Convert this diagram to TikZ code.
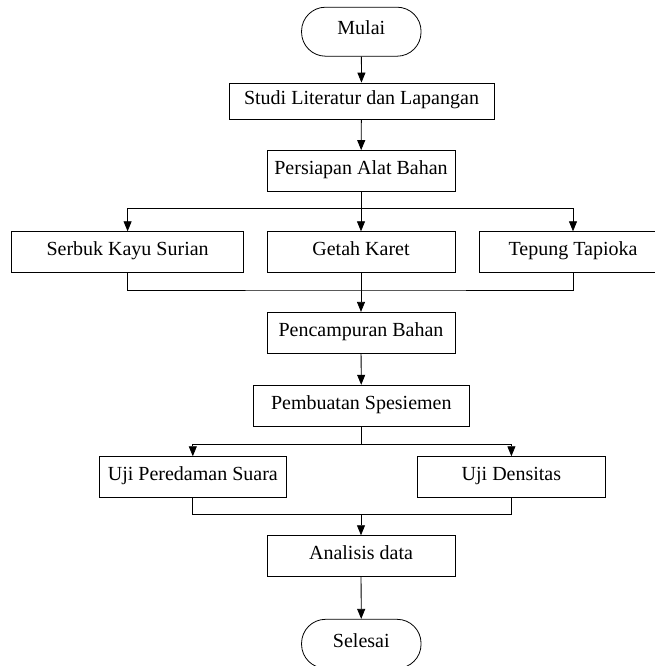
\documentclass[tikz,border=0pt]{standalone}
\usepackage{fontspec}
\setmainfont{Liberation Serif}
\usetikzlibrary{arrows.meta}
\begin{document}
\begin{tikzpicture}[x=1pt,y=-1pt,
  box/.style={draw=black,line width=0.8pt,fill=white,minimum height=41pt,inner sep=0pt,text height=0.66em,text depth=0pt,font=\fontsize{20}{22}\selectfont},
  term/.style={box,rounded corners=24pt,minimum width=119.5pt,minimum height=49pt},
  arr/.style={-{Triangle[length=10pt,width=8pt]},line width=0.8pt},
  ln/.style={line width=0.8pt}]
\useasboundingbox (0,0) rectangle (655,666);
\clip (0,0) rectangle (655,666);
\node[term] (mulai) at (361.3,31.7) {Mulai};
\node[box,minimum width=265pt,minimum height=36pt] (studi) at (361.5,101) {Studi Literatur dan Lapangan};
\node[box,minimum width=188pt] (persiapan) at (361,171) {Persiapan Alat Bahan};
\node[box,minimum width=232pt] (serbuk) at (127.6,252.2) {Serbuk Kayu Surian};
\node[box,minimum width=188pt] (getah) at (361,252.2) {Getah Karet};
\node[box,minimum width=188pt] (tepung) at (573,252.2) {Tepung Tapioka};
\node[box,minimum width=188pt] (pencampuran) at (361,332.8) {Pencampuran Bahan};
\node[box,minimum width=216.5pt] (pembuatan) at (361.3,405.7) {Pembuatan Spesiemen};
\node[box,minimum width=187.5pt,minimum height=40.3pt] (peredaman) at (192.8,476.8) {Uji Peredaman Suara};
\node[box,minimum width=187.5pt,minimum height=40.3pt] (densitas) at (511.4,476.8) {Uji Densitas};
\node[box,minimum width=188pt,minimum height=40.3pt] (analisis) at (361,555.8) {Analisis data};
\node[term] (selesai) at (361.3,643.8) {Selesai};
\coordinate (s1) at (361,208.3);
\coordinate (j1) at (361,290);
\coordinate (s2) at (361.3,444);
\coordinate (j2) at (361,514.7);
\draw[arr] (mulai) -- (studi);
\draw[arr] (studi) -- (persiapan);
\draw[arr] (persiapan) -- (getah);
\draw[arr] (s1) -| (serbuk.north);
\draw[arr] (s1) -| (tepung.north);
\draw[ln] (serbuk.south) |- (j1) -| (tepung.south);
\draw[arr] (getah) -- (pencampuran);
\draw[arr] (pencampuran) -- (pembuatan);
\draw[ln] (pembuatan.south) -- (s2);
\draw[arr] (s2) -| (peredaman.north);
\draw[arr] (s2) -| (densitas.north);
\draw[ln] (peredaman.south) |- (j2) -| (densitas.south);
\draw[arr] (j2) -- (analisis.north);
\draw[arr] (analisis) -- (selesai);
\end{tikzpicture}
\end{document}
